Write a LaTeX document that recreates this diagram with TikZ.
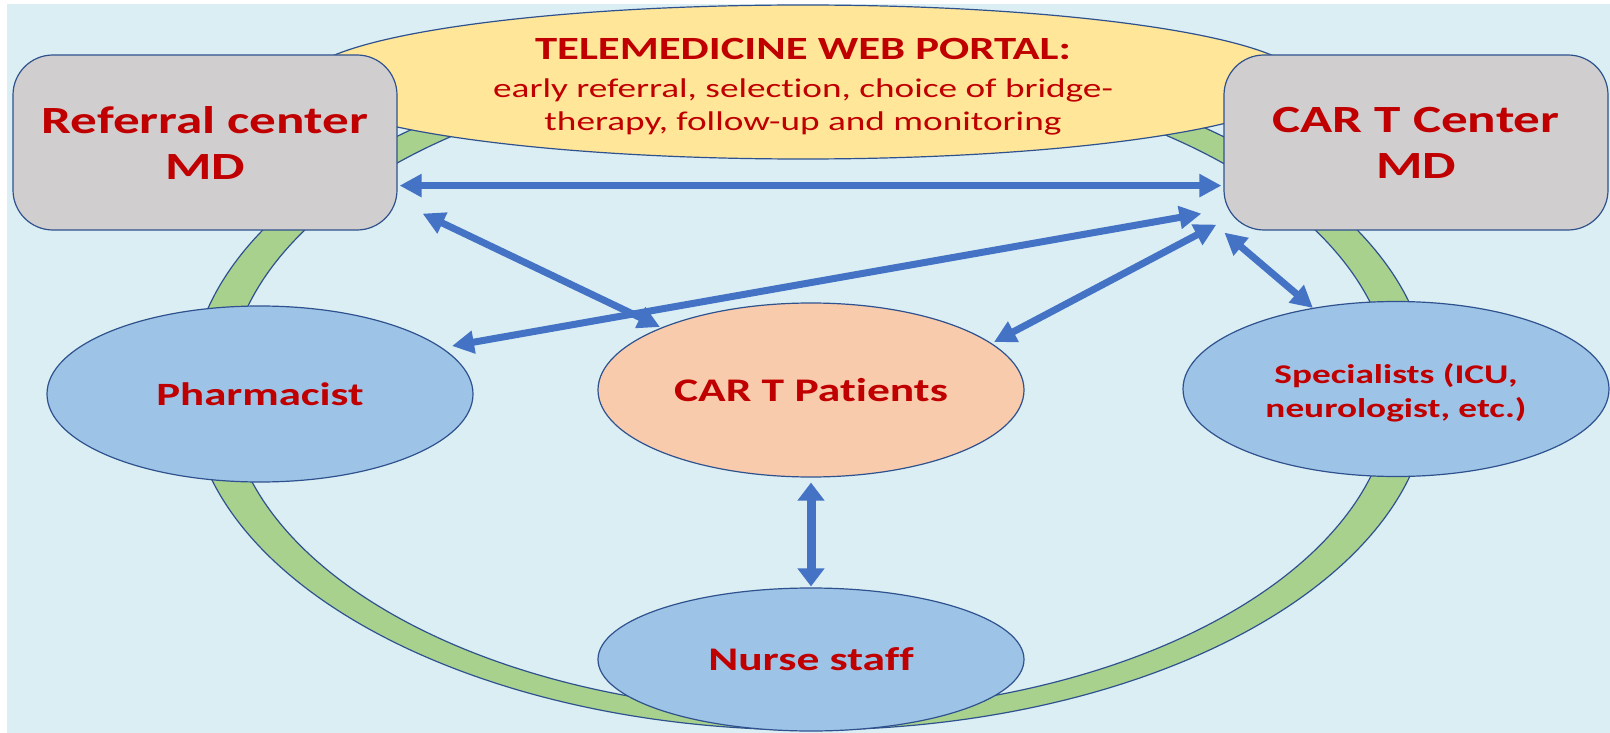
\documentclass[tikz,border=0pt]{standalone}
\usepackage{fontspec}
\setmainfont{Carlito}[FakeStretch=1.38, Ligatures=CommonOff]
\usetikzlibrary{shapes.geometric,arrows.meta,calc}
\definecolor{bgblue}{RGB}{218,238,243}
\definecolor{ringgreen}{RGB}{169,209,142}
\definecolor{portalyellow}{RGB}{255,230,153}
\definecolor{boxgray}{RGB}{208,206,206}
\definecolor{ellblue}{RGB}{157,195,230}
\definecolor{peach}{RGB}{248,203,173}
\definecolor{edgeblue}{RGB}{47,82,143}
\definecolor{arrowblue}{RGB}{68,114,196}
\definecolor{textred}{RGB}{192,0,0}
\tikzset{
  outline/.style={draw=edgeblue, line width=1.2pt},
  mdbox/.style={outline, fill=boxgray, rectangle, rounded corners=40pt,
    minimum width=384pt, minimum height=175pt, inner sep=0pt, align=center,
    text=textred, font=\fontsize{38.5}{46}\selectfont\bfseries},
  roleell/.style={outline, fill=ellblue, ellipse, minimum width=426pt,
    minimum height=176pt, inner sep=0pt, align=center, text=textred,
    font=\fontsize{33}{34}\selectfont\bfseries},
  portalell/.style={outline, fill=portalyellow, ellipse, minimum width=1000pt,
    minimum height=154pt, inner sep=0pt, align=center, text=textred,
    font=\fontsize{27}{33.5}\selectfont},
  link/.style={draw=arrowblue, line width=7pt,
    {Triangle[length=22pt,width=22pt]}-{Triangle[length=22pt,width=22pt]}},
  biglink/.style={draw=arrowblue, line width=9pt,
    {Triangle[length=18pt,width=26pt]}-{Triangle[length=18pt,width=26pt]}}
}
\begin{document}
\begin{tikzpicture}[x=1pt,y=-1pt]
\useasboundingbox (0,0) rectangle (1610,733);
\fill[bgblue] (7,4) rectangle (1610,733);
% ring
\fill[ringgreen, even odd rule] (810,390) ellipse [x radius=620pt, y radius=340pt]
  (810,390) ellipse [x radius=582pt, y radius=322pt];
\draw[outline] (810,390) ellipse [x radius=620pt, y radius=340pt];
\draw[outline] (810,390) ellipse [x radius=582pt, y radius=322pt];
% portal
\node[portalell] (portal) at (803,82)
  {\rule{0pt}{31pt}\fontsize{32.4}{33.5}\selectfont\bfseries TELEMEDICINE WEB PORTAL:\\[4pt]
   \fontsize{27}{33.5}\selectfont\mdseries early referral, selection, choice of bridge-\\
   \fontsize{27}{33.5}\selectfont\mdseries therapy, follow-up and monitoring};
% boxes
\node[mdbox] (ref) at (205,142.5) {Referral center\\MD};
\node[mdbox] (car) at (1416,142.5) {CAR T Center\\MD};
% ellipses
\node[roleell, font=\fontsize{32.5}{34}\selectfont\bfseries] (pharm) at (260,394) {Pharmacist};
\node[roleell, fill=peach, minimum height=174pt] (pat) at (811,390) {CAR T Patients};
\node[roleell, minimum height=175pt, font=\fontsize{27}{34}\selectfont\bfseries] (spec) at (1396,389)
  {\rule{0pt}{28pt}Specialists (ICU,\\neurologist, etc.)};
\node[roleell, minimum height=143pt] (nurse) at (811,659.5) {Nurse staff};
% arrows
\draw[link] ($(ref.south east)+(2,-45)$) -- ($(car.south west)+(-2,-45)$);
\draw[link] ($(ref.south east)+(25,-17)$) -- ($(pat.center)+(-151,-63)$);
\draw[link] ($(pharm.center)+(192,-48)$) -- ($(car.south west)+(-22,-17)$);
\draw[link] ($(pat.center)+(183,-48)$) -- ($(car.south west)+(-7,-6)$);
\draw[link] ($(car.south west)+(1,2)$) -- ($(spec.center)+(-83,-81)$);
\draw[biglink] ($(pat.south)+(0,5)$) -- ($(nurse.north)+(0,-1)$);
\end{tikzpicture}
\end{document}
